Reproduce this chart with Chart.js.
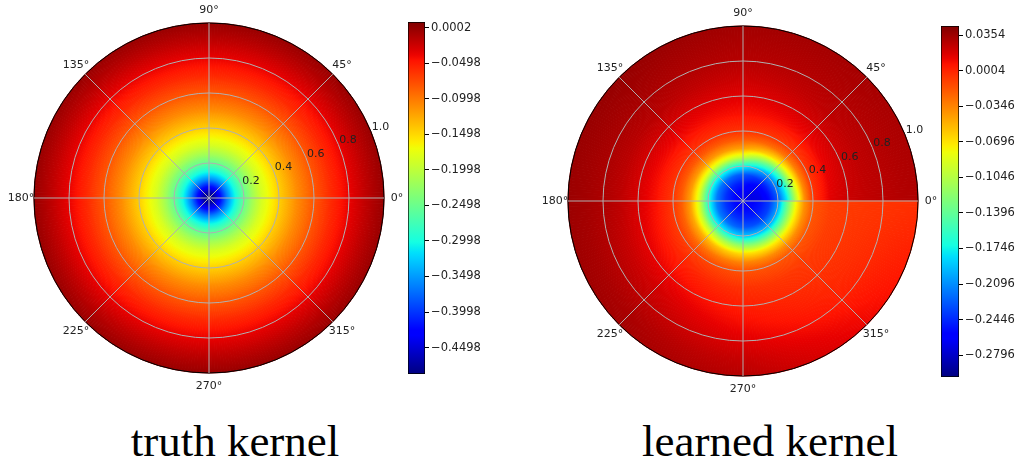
<!DOCTYPE html>
<html>
<head>
    <script src="https://cdn.jsdelivr.net/npm/chart.js@4.4.0/dist/chart.umd.min.js"></script>
    <title>truth kernel / learned kernel</title>
    <style>
        body { margin: 0; background: #fff; }
        #page { position: relative; width: 1019px; height: 463px; overflow: hidden; background: #fff; }
        .box { position: absolute; }
        .caption { position: absolute; width: 400px; text-align: center; top: 415px;
                   font-family: "Liberation Serif", "Times New Roman", serif; font-size: 45px; color: #000; }
    </style>
</head>

<body>
<div id="page">
    <div class="box" style="left:0px; top:0px; width:415px; height:400px;"><canvas id="truthPolar"></canvas></div>
    <div class="box" style="left:398px; top:0px; width:121px; height:400px;"><canvas id="truthBar"></canvas></div>
    <div class="box" style="left:520px; top:0px; width:425px; height:400px;"><canvas id="learnedPolar"></canvas></div>
    <div class="box" style="left:931px; top:0px; width:88px; height:400px;"><canvas id="learnedBar"></canvas></div>
    <div class="caption" style="left:35px;">truth kernel</div>
    <div class="caption" style="left:570px;">learned kernel</div>
</div>

<script>
    // polar axis labels
    const angleTicks = [0, 45, 90, 135, 180, 225, 270, 315];
    const angleLabels = ['0°', '45°', '90°', '135°', '180°', '225°', '270°', '315°'];
    const rTicks = [0.2, 0.4, 0.6, 0.8, 1.0];
    const rMax = 1.0;

    // truth kernel: radial profile (same at every angle)
    const truthRadii = [0, 0.03, 0.06, 0.1, 0.14, 0.2, 0.25, 0.3, 0.4, 0.5, 0.6, 0.7, 0.8, 0.9, 1.0];
    const truthValues = [-0.487, -0.47, -0.43, -0.365, -0.312, -0.252, -0.215, -0.185, -0.145, -0.11, -0.081, -0.057, -0.037, -0.018, -0.002];
    const truthRange = [-0.487, 0.0082];
    const truthBarTicks = [0.0002, -0.0498, -0.0998, -0.1498, -0.1998, -0.2498, -0.2998, -0.3498, -0.3998, -0.4498];

    // learned kernel: radial profiles read at a few angles (degrees, counter-clockwise from 0°)
    const learnedRadii = [0, 0.05, 0.1, 0.15, 0.2, 0.25, 0.3, 0.35, 0.4, 0.5, 0.6, 0.7, 0.8, 0.9, 1.0];
    const learnedAngles = [0, 45, 90, 135, 180, 225, 270, 315, 360];
    const learnedAt0   = [-0.262, -0.272, -0.270, -0.255, -0.228, -0.180, -0.105, -0.040, -0.005, 0.015, 0.022, 0.025, 0.027, 0.029, 0.030];
    const learnedAt45  = [-0.262, -0.270, -0.265, -0.245, -0.210, -0.150, -0.075, -0.030, -0.008, 0.010, 0.020, 0.026, 0.029, 0.031, 0.033];
    const learnedAt90  = [-0.262, -0.262, -0.250, -0.228, -0.170, -0.095, -0.045, -0.020, -0.004, 0.008, 0.015, 0.022, 0.028, 0.031, 0.034];
    const learnedAt135 = [-0.262, -0.258, -0.245, -0.220, -0.165, -0.090, -0.042, -0.018, -0.004, 0.010, 0.020, 0.028, 0.032, 0.035, 0.038];
    const learnedAt180 = [-0.262, -0.255, -0.240, -0.215, -0.160, -0.090, -0.045, -0.020, -0.006, 0.008, 0.018, 0.026, 0.031, 0.034, 0.036];
    const learnedAt225 = [-0.262, -0.255, -0.240, -0.218, -0.170, -0.100, -0.052, -0.026, -0.010, 0.003, 0.012, 0.020, 0.026, 0.031, 0.034];
    const learnedAt270 = [-0.262, -0.256, -0.245, -0.228, -0.190, -0.125, -0.068, -0.035, -0.016, -0.004, 0.003, 0.009, 0.016, 0.023, 0.028];
    const learnedAt315 = [-0.262, -0.258, -0.250, -0.235, -0.200, -0.135, -0.075, -0.038, -0.017, -0.007, -0.004, -0.001, 0.003, 0.008, 0.012];
    const learnedAt360 = [-0.262, -0.260, -0.252, -0.238, -0.205, -0.140, -0.080, -0.040, -0.018, -0.010, -0.008, -0.007, -0.006, -0.005, -0.004];
    const learnedProfiles = [learnedAt0, learnedAt45, learnedAt90, learnedAt135, learnedAt180,
                             learnedAt225, learnedAt270, learnedAt315, learnedAt360];
    const learnedRange = [-0.301, 0.0443];
    const learnedBarTicks = [0.0354, 0.0004, -0.0346, -0.0696, -0.1046, -0.1396, -0.1746, -0.2096, -0.2446, -0.2796];

    const nSlices = 360;   // 1 degree wedges
    const sliceLabels = Array.from({length: nSlices}, (_, i) => i);

    const labelFont = '11px "DejaVu Sans"';
    const textColor = '#222';
    const gridColor = '#b0b0b0';

    // matplotlib "jet"
    const jetR = [[0, 0], [0.35, 0], [0.66, 1], [0.89, 1], [1, 0.5]];
    const jetG = [[0, 0], [0.125, 0], [0.375, 1], [0.64, 1], [0.91, 0], [1, 0]];
    const jetB = [[0, 0.5], [0.11, 1], [0.34, 1], [0.65, 0], [1, 0]];
    function seg(tab, t) {
        for (let i = 1; i < tab.length; i++) {
            if (t <= tab[i][0]) {
                const a = tab[i - 1], b = tab[i];
                return a[1] + (b[1] - a[1]) * (t - a[0]) / (b[0] - a[0]);
            }
        }
        return tab[tab.length - 1][1];
    }
    function jet(v, range) {
        let t = (v - range[0]) / (range[1] - range[0]);
        t = Math.max(0, Math.min(1, t));
        return 'rgb(' + Math.round(seg(jetR, t) * 255) + ',' + Math.round(seg(jetG, t) * 255) + ',' + Math.round(seg(jetB, t) * 255) + ')';
    }

    // radial gradient for one wedge, placed with the chart's own radial scale
    function radialFill(chart, radii, values, range) {
        const s = chart.scales.r;
        const cx = s.xCenter, cy = s.yCenter;
        const R = s.getDistanceFromCenterForValue(rMax);
        const g = chart.ctx.createRadialGradient(cx, cy, 0, cx, cy, R);
        const sub = 6;
        for (let k = 0; k < radii.length - 1; k++) {
            for (let j = 0; j < sub; j++) {
                const f = j / sub;
                const r = radii[k] + (radii[k + 1] - radii[k]) * f;
                const v = values[k] + (values[k + 1] - values[k]) * f;
                g.addColorStop(r / rMax, jet(v, range));
            }
        }
        g.addColorStop(1, jet(values[values.length - 1], range));
        return g;
    }

    function sliceTheta(i) {
        // chart index runs clockwise from the top, polar angle runs counter-clockwise from the right
        let th = 90 - (i + 0.5);
        if (th < 0) th += 360;
        return th;
    }

    function learnedProfileAt(theta) {
        const j = Math.min(Math.floor(theta / 45), 7);
        const w = (theta - learnedAngles[j]) / 45;
        return learnedRadii.map((_, k) => learnedProfiles[j][k] * (1 - w) + learnedProfiles[j + 1][k] * w);
    }

    const fillCache = {};
    function wedgeColor(name) {
        return function (ctx) {
            if (ctx.type !== 'data') return 'transparent';
            const chart = ctx.chart;
            const s = chart.scales.r;
            if (!s || s.xCenter === undefined) return 'transparent';
            const key = name + s.xCenter + ',' + s.yCenter + ',' + s.drawingArea;
            if (!fillCache[key]) {
                if (name === 'truth') {
                    const g = radialFill(chart, truthRadii, truthValues, truthRange);
                    fillCache[key] = sliceLabels.map(() => g);
                } else {
                    fillCache[key] = sliceLabels.map(i => radialFill(chart, learnedRadii, learnedProfileAt(sliceTheta(i)), learnedRange));
                }
            }
            return fillCache[key][ctx.dataIndex];
        };
    }

    // theta labels and radial labels in matplotlib positions
    const polarLabels = {
        id: 'polarLabels',
        afterDraw(chart) {
            const s = chart.scales.r;
            const ctx = chart.ctx;
            const cx = s.xCenter, cy = s.yCenter;
            const R = s.getDistanceFromCenterForValue(rMax);
            ctx.save();
            ctx.font = labelFont;
            ctx.fillStyle = textColor;
            ctx.textAlign = 'center';
            ctx.textBaseline = 'middle';
            angleTicks.forEach((a, i) => {
                const rad = a * Math.PI / 180;
                ctx.fillText(angleLabels[i], cx + (R + 13) * Math.cos(rad), cy - (R + 13) * Math.sin(rad));
            });
            ctx.textAlign = 'left';
            ctx.textBaseline = 'alphabetic';
            const rl = 22.5 * Math.PI / 180;
            rTicks.forEach(v => {
                const d = s.getDistanceFromCenterForValue(v);
                ctx.fillText(v.toFixed(1), cx + d * Math.cos(rl) + 1, cy - d * Math.sin(rl) - 1);
            });
            ctx.restore();
        }
    };

    function makePolar(id, name, padding) {
        return new Chart(document.getElementById(id), {
            type: 'polarArea',
            data: {
                labels: sliceLabels,
                datasets: [{
                    data: sliceLabels.map(() => rMax),
                    backgroundColor: wedgeColor(name),
                    borderColor: wedgeColor(name),
                    borderWidth: 1
                }]
            },
            options: {
                responsive: true,
                maintainAspectRatio: false,
                animation: false,
                layout: { padding: padding },
                plugins: { legend: false, tooltip: false },
                scales: {
                    r: {
                        min: 0,
                        max: rMax,
                        startAngle: 0,
                        ticks: { display: false, stepSize: 0.2 },
                        pointLabels: { display: false },
                        grid: {
                            circular: true,
                            z: 1,
                            color: c => (c.tick && c.tick.value >= rMax) ? '#000' : gridColor,
                            lineWidth: 1
                        },
                        angleLines: {
                            display: true,
                            color: gridColor,
                            lineWidth: c => (c.index % 45 === 0) ? 1 : 0
                        }
                    }
                }
            },
            plugins: [polarLabels]
        });
    }

    function makeColorbar(id, range, tickVals, padding, axisWidth) {
        return new Chart(document.getElementById(id), {
            type: 'bar',
            data: {
                labels: [''],
                datasets: [{
                    data: [[range[0], range[1]]],
                    backgroundColor: function (ctx) {
                        const chart = ctx.chart;
                        const y = chart.scales.y;
                        if (!y || y.top === undefined) return 'transparent';
                        const g = chart.ctx.createLinearGradient(0, y.getPixelForValue(range[0]), 0, y.getPixelForValue(range[1]));
                        for (let i = 0; i <= 64; i++) {
                            g.addColorStop(i / 64, jet(range[0] + (range[1] - range[0]) * i / 64, range));
                        }
                        return g;
                    },
                    borderColor: '#000',
                    borderWidth: 1,
                    borderSkipped: false,
                    barPercentage: 1,
                    categoryPercentage: 1
                }]
            },
            options: {
                responsive: true,
                maintainAspectRatio: false,
                animation: false,
                layout: { padding: padding },
                plugins: { legend: false, tooltip: false },
                scales: {
                    x: { display: false },
                    y: {
                        position: 'right',
                        min: range[0],
                        max: range[1],
                        afterFit: s => { s.width = axisWidth; },
                        afterBuildTicks: s => { s.ticks = tickVals.map(v => ({ value: v })); },
                        ticks: {
                            autoSkip: false,
                            padding: 2,
                            color: textColor,
                            font: { family: 'DejaVu Sans', size: 11.5 },
                            callback: v => v.toFixed(4).replace('-', '\u2212')
                        },
                        grid: { drawOnChartArea: false, drawTicks: true, tickLength: 4, color: '#000', lineWidth: 1 },
                        border: { display: false }
                    }
                }
            }
        });
    }

    makePolar('truthPolar', 'truth', { left: 34, right: 30, top: 23, bottom: 26 });
    makeColorbar('truthBar', truthRange, truthBarTicks, { left: 10, right: 0, top: 22, bottom: 26 }, 94);
    makePolar('learnedPolar', 'learned', { left: 48, right: 26, top: 26, bottom: 23 });
    makeColorbar('learnedBar', learnedRange, learnedBarTicks, { left: 10, right: 0, top: 26, bottom: 23 }, 60);
</script>

</body>
</html>
